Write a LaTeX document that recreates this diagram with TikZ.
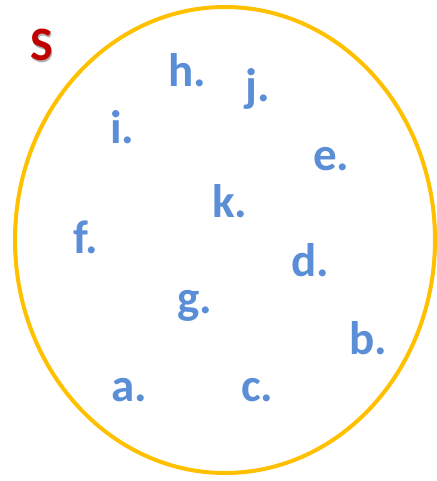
\documentclass[tikz,border=0pt]{standalone}
\usepackage{fontspec}
\setmainfont{Carlito}
\definecolor{setring}{HTML}{FFC000}
\definecolor{elemblue}{HTML}{5A8ED6}
\definecolor{setred}{HTML}{C00000}

\begin{document}
\begin{tikzpicture}[
    x=1pt, y=-1pt,
    elem/.style={font=\fontsize{47}{47}\selectfont\bfseries, text=elemblue, inner sep=0pt, anchor=base west},
    title/.style={font=\fontsize{48}{48}\selectfont\bfseries, text=setred, inner sep=0pt, anchor=base west},
    ring/.style={draw=setring, line width=4pt}
]
    \useasboundingbox (0,0) rectangle (436,481);

    % Menge
    \draw[ring] (225,240) ellipse [x radius=210, y radius=233];
    \node[title, text=black!30] (setSshade) at (31.5,62.5) {S};
    \node[title] (setS) at (30,61) {S};

    % Elemente
    \node[elem] (elH) at (168,87) {h.};
    \node[elem] (elJ) at (245,102) {j.};
    \node[elem] (elI) at (110,144) {i.};
    \node[elem] (elE) at (313,170) {e.};
    \node[elem] (elK) at (212,217) {k.};
    \node[elem] (elF) at (73,253) {f.};
    \node[elem] (elD) at (291,276) {d.};
    \node[elem] (elG) at (177,313) {g.};
    \node[elem] (elB) at (349,354) {b.};
    \node[elem] (elA) at (111,401) {a.};
    \node[elem] (elC) at (241,401) {c.};
\end{tikzpicture}
\end{document}
